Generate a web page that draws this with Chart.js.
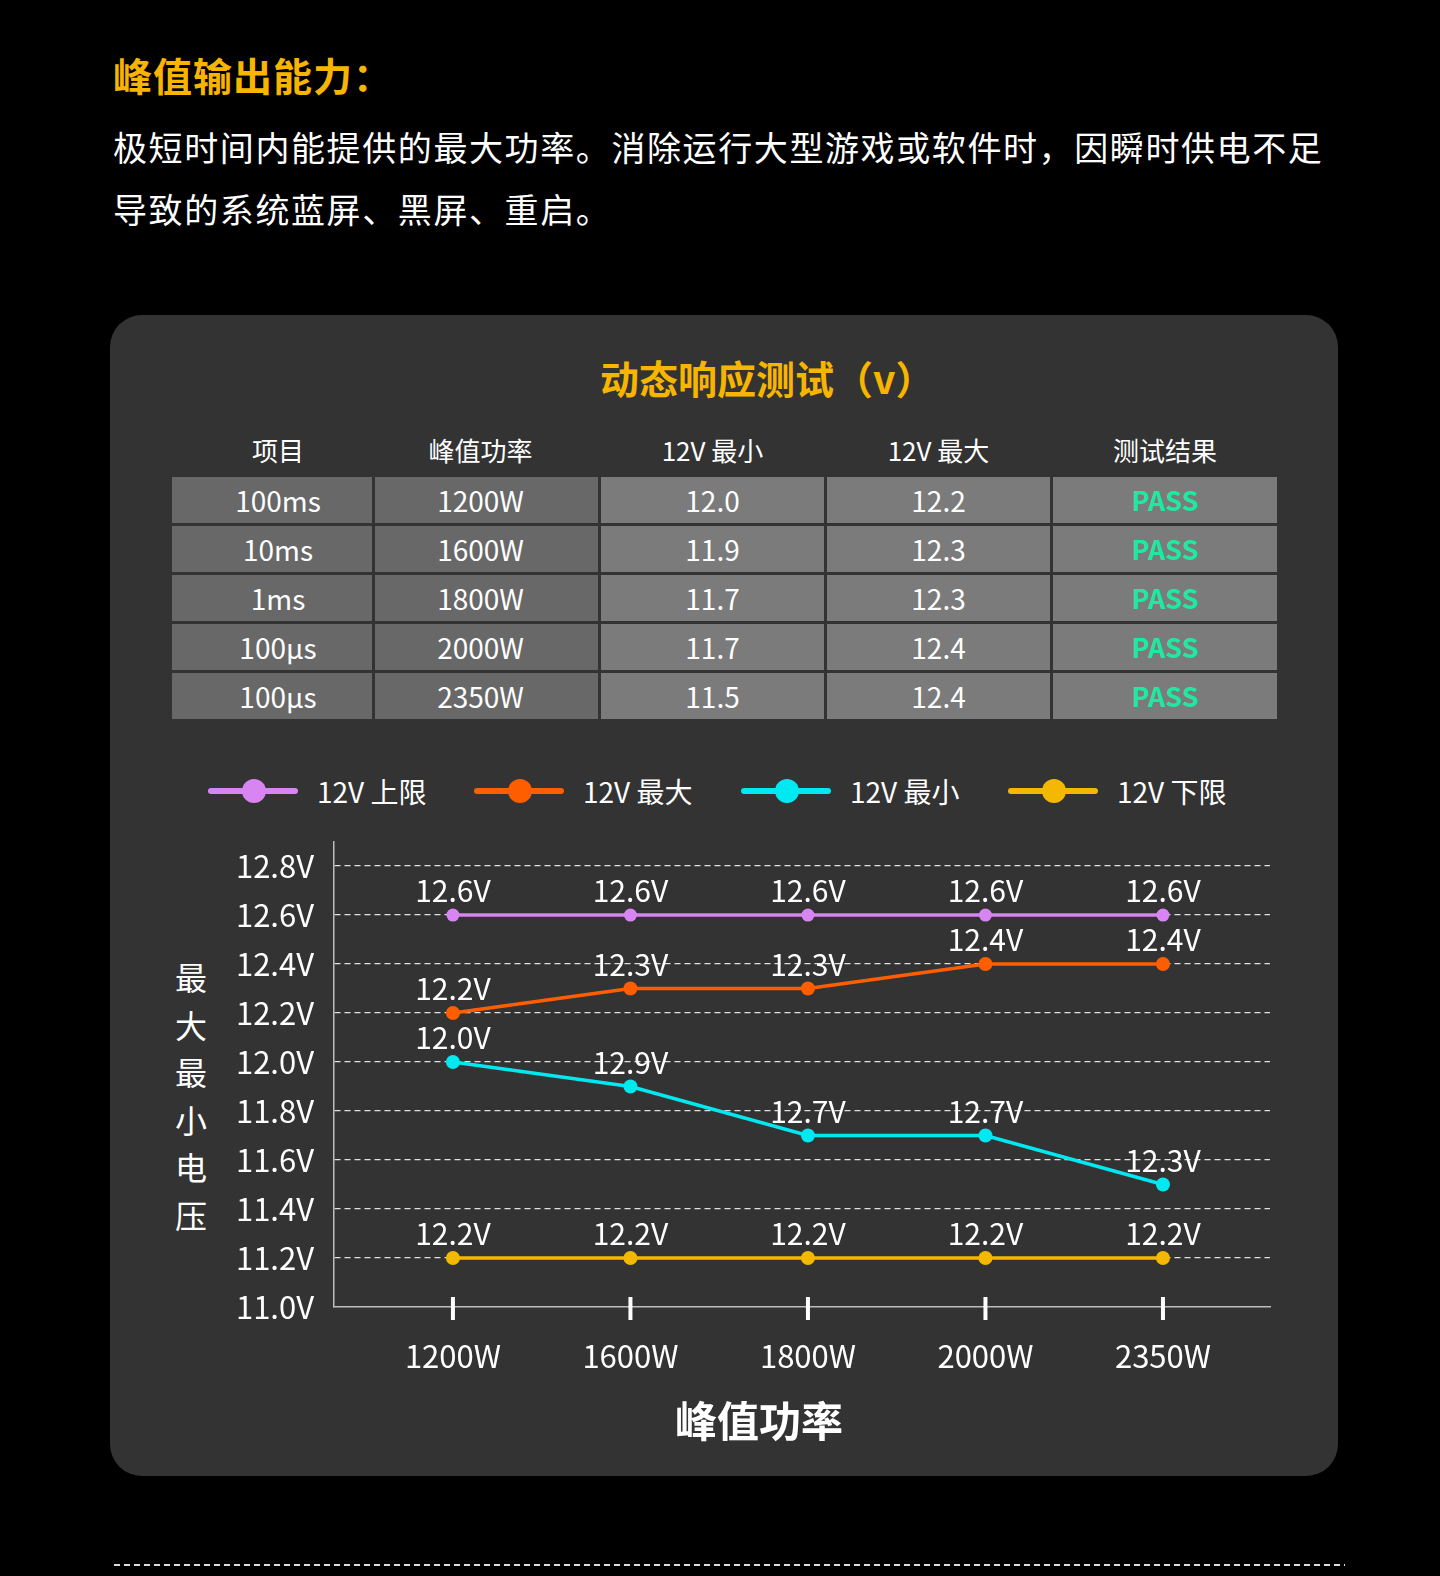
<!DOCTYPE html>
<html lang="zh-CN">
<head>
<meta charset="UTF-8">
<title>峰值输出能力</title>
<script src="https://cdn.jsdelivr.net/npm/chart.js@4.4.1/dist/chart.umd.min.js"></script>
<style>
    body {
        margin: 0;
        width: 1440px;
        height: 1576px;
        background: #000;
        position: relative;
        overflow: hidden;
        font-family: "Noto Sans CJK SC", "Noto Sans", sans-serif;
        color: #fff;
    }
    .headline {
        position: absolute; left: 113px; top: 49px;
        font-size: 39px; font-weight: 700; line-height: 50px; color: #f7b500; letter-spacing: 1px;
    }
    .intro {
        position: absolute; left: 113px; top: 116px; width: 1280px;
        font-size: 34px; line-height: 62px; letter-spacing: 1.6px;
    }
    .card {
        position: absolute; left: 110px; top: 315px; width: 1228px; height: 1161px;
        background: #333; border-radius: 32px;
    }
    .card-title {
        position: absolute; left: 600px; top: 351px;
        font-size: 39px; font-weight: 700; line-height: 52px; color: #f7b500;
    }
    .grid-row {
        position: absolute; left: 172px;
        display: grid; grid-template-columns: 200px 223px 223px 223px 224px; column-gap: 3px;
    }
    .grid-row div {
        text-align: center; box-sizing: border-box;
    }
    .grid-row div.c1 { padding-left: 12px; }
    .grid-row div.c2 { padding-right: 12px; }
    .thead { top: 430px; }
    .thead div { font-size: 26px; line-height: 40px; }
    .tbody div { height: 46px; line-height: 46px; font-size: 28px; background: #7b7b7b; }
    .tbody div.dark { background: #686868; }
    .tbody div.pass { color: #1de9a2; font-weight: 700; font-size: 27px; }
    .legend-item { position: absolute; top: 771px; height: 40px; }
    .legend-item .bar { position: absolute; left: 0; top: 17px; width: 90px; height: 6px; border-radius: 3px; }
    .legend-item .dot { position: absolute; left: 34px; top: 8px; width: 24px; height: 24px; border-radius: 50%; }
    .legend-item .txt { position: absolute; left: 109px; top: 0; font-size: 28px; line-height: 40px; white-space: nowrap; }
    .y-title {
        position: absolute; left: 171px; top: 953px; width: 40px;
        font-size: 32px; line-height: 47.6px; text-align: center;
    }
    .x-title {
        position: absolute; left: 639px; top: 1393px; width: 240px;
        font-size: 42px; font-weight: 700; line-height: 52px; text-align: center;
    }
    #chartBox { position: absolute; left: 110px; top: 803px; width: 1228px; height: 657px; }
    .footer-line {
        position: absolute; left: 114px; top: 1564px; width: 1231px; height: 1.5px;
        background: repeating-linear-gradient(to right, #ddd 0 6px, transparent 6px 10px);
    }
</style>
</head>
<body>

<div class="headline">峰值输出能力：</div>
<div class="intro">极短时间内能提供的最大功率。消除运行大型游戏或软件时，因瞬时供电不足<br>导致的系统蓝屏、黑屏、重启。</div>

<div class="card"></div>
<div class="card-title">动态响应测试（v）</div>

<div class="grid-row thead" id="tableHead"></div>
<div id="tableBody"></div>

<div id="legend"></div>

<div class="y-title">最<br>大<br>最<br>小<br>电<br>压</div>
<div id="chartBox"><canvas id="voltChart"></canvas></div>
<div class="x-title">峰值功率</div>

<div class="footer-line"></div>

<script>
// 表格数据
const tableHeaders = ['项目', '峰值功率', '12V 最小', '12V 最大', '测试结果'];
const tableItems = ['100ms', '10ms', '1ms', '100μs', '100μs'];
const tablePower = ['1200W', '1600W', '1800W', '2000W', '2350W'];
const tableMin = ['12.0', '11.9', '11.7', '11.7', '11.5'];
const tableMax = ['12.2', '12.3', '12.3', '12.4', '12.4'];
const tableResult = ['PASS', 'PASS', 'PASS', 'PASS', 'PASS'];

// 折线图数据
const categories = ['1200W', '1600W', '1800W', '2000W', '2350W'];
const upperLimit = [12.6, 12.6, 12.6, 12.6, 12.6];
const maxValues = [12.2, 12.3, 12.3, 12.4, 12.4];
const minValues = [12.0, 11.9, 11.7, 11.7, 11.5];
const lowerLimit = [11.2, 11.2, 11.2, 11.2, 11.2];

// 点上方的标注（按原图文字）
const upperLabels = ['12.6V', '12.6V', '12.6V', '12.6V', '12.6V'];
const maxLabels = ['12.2V', '12.3V', '12.3V', '12.4V', '12.4V'];
const minLabels = ['12.0V', '12.9V', '12.7V', '12.7V', '12.3V'];
const lowerLabels = ['12.2V', '12.2V', '12.2V', '12.2V', '12.2V'];

const yTicks = [11.0, 11.2, 11.4, 11.6, 11.8, 12.0, 12.2, 12.4, 12.6, 12.8];

const seriesNames = ['12V 上限', '12V 最大', '12V 最小', '12V 下限'];
const seriesColors = ['#d884f3', '#ff5e00', '#00e9f1', '#f5b800'];
const legendLeft = [208, 474, 741, 1008];

// 表格
function renderTable() {
    document.getElementById('tableHead').innerHTML =
        tableHeaders.map((h, i) => `<div class="c${i + 1}">${h}</div>`).join('');

    const body = document.getElementById('tableBody');
    let html = '';
    tableItems.forEach((item, i) => {
        const top = 477 + i * 49;
        html += `
            <div class="grid-row tbody" style="top:${top}px">
                <div class="dark c1">${item}</div>
                <div class="dark c2">${tablePower[i]}</div>
                <div>${tableMin[i]}</div>
                <div>${tableMax[i]}</div>
                <div class="pass">${tableResult[i]}</div>
            </div>`;
    });
    body.innerHTML = html;
}

// 图例
function renderLegend() {
    const box = document.getElementById('legend');
    box.innerHTML = seriesNames.map((name, i) => `
        <div class="legend-item" style="left:${legendLeft[i]}px">
            <div class="bar" style="background:${seriesColors[i]}"></div>
            <div class="dot" style="background:${seriesColors[i]}"></div>
            <div class="txt">${name}</div>
        </div>`).join('');
}

const toPoints = arr => arr.map((v, i) => ({ x: i, y: v }));

// 点标注
const pointLabelPlugin = {
    id: 'pointLabels',
    afterDatasetsDraw(chart) {
        const ctx = chart.ctx;
        ctx.save();
        ctx.fillStyle = '#fff';
        ctx.font = '30px "Noto Sans CJK SC"';
        ctx.textAlign = 'center';
        ctx.textBaseline = 'middle';
        chart.data.datasets.forEach((ds, di) => {
            const meta = chart.getDatasetMeta(di);
            meta.data.forEach((pt, i) => {
                ctx.fillText(ds.pointLabels[i], pt.x, pt.y - 24);
            });
        });
        ctx.restore();
    }
};

// X轴刻度短线
const xTickMarkPlugin = {
    id: 'xTickMarks',
    afterDraw(chart) {
        const scale = chart.scales.x;
        const ctx = chart.ctx;
        const y = chart.chartArea.bottom;
        ctx.save();
        ctx.strokeStyle = '#fff';
        ctx.lineWidth = 4;
        scale.ticks.forEach(t => {
            const x = scale.getPixelForValue(t.value);
            ctx.beginPath();
            ctx.moveTo(x, y - 10);
            ctx.lineTo(x, y + 13);
            ctx.stroke();
        });
        ctx.restore();
    }
};

function makeDataset(i, values, labels, radius) {
    return {
        label: seriesNames[i],
        data: toPoints(values),
        pointLabels: labels,
        borderColor: seriesColors[i],
        backgroundColor: seriesColors[i],
        borderWidth: 3.5,
        pointRadius: radius,
        pointHoverRadius: radius,
        pointBorderWidth: 0,
        tension: 0
    };
}

function renderChart() {
    const ctx = document.getElementById('voltChart');
    new Chart(ctx, {
        type: 'line',
        data: {
            datasets: [
                makeDataset(0, upperLimit, upperLabels, 6.5),
                makeDataset(1, maxValues, maxLabels, 7),
                makeDataset(2, minValues, minLabels, 7),
                makeDataset(3, lowerLimit, lowerLabels, 7)
            ]
        },
        options: {
            responsive: true,
            maintainAspectRatio: false,
            animation: false,
            layout: { padding: { left: 100, right: 68, top: 2, bottom: 53 } },
            plugins: {
                legend: { display: false },
                tooltip: { enabled: false }
            },
            scales: {
                x: {
                    type: 'linear',
                    min: -0.67,
                    max: 4.603,
                    afterBuildTicks: scale => {
                        scale.ticks = categories.map((c, i) => ({ value: i }));
                    },
                    afterFit: scale => { scale.height = 100; },
                    grid: { display: false, drawTicks: false },
                    border: { display: true, color: '#bdbdbd', width: 1.5 },
                    ticks: {
                        color: '#fff',
                        font: { family: 'Noto Sans CJK SC', size: 31 },
                        padding: 31,
                        maxRotation: 0,
                        autoSkip: false,
                        callback: v => categories[v]
                    }
                },
                y: {
                    min: 11.0,
                    max: 12.9,
                    afterBuildTicks: scale => {
                        scale.ticks = yTicks.map(v => ({ value: v }));
                    },
                    afterFit: scale => { scale.width = 124; },
                    grid: {
                        drawTicks: false,
                        lineWidth: 1.2,
                        color: c => (c.tick && c.tick.value === 11.0) ? 'rgba(0,0,0,0)' : 'rgba(255,255,255,0.85)'
                    },
                    border: { display: true, color: '#bdbdbd', width: 1.5, dash: [6, 4] },
                    ticks: {
                        color: '#fff',
                        font: { family: 'Noto Sans CJK SC', size: 31 },
                        padding: 20,
                        callback: v => v.toFixed(1) + 'V'
                    }
                }
            }
        },
        plugins: [pointLabelPlugin, xTickMarkPlugin]
    });
}

renderTable();
renderLegend();
renderChart();
</script>
</body>
</html>
